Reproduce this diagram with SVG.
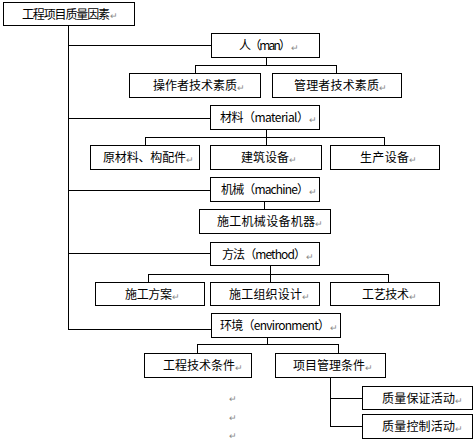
<svg xmlns="http://www.w3.org/2000/svg" width="476" height="443" viewBox="0 0 476 443">
<style>
rect{fill:#fff;stroke:#000;stroke-width:1}
.c line{stroke:#000;stroke-width:1}
text{font-family:"Noto Sans CJK SC","Noto Sans",sans-serif;font-size:12px;fill:#000}
.r{font-size:9px;fill:#888}
</style>
<rect x="0" y="0" width="476" height="443" style="stroke:none"/>
<g class="c" id="connectors">
<line x1="68.5" y1="25" x2="68.5" y2="329.5"/>
<line x1="68" y1="45.5" x2="211" y2="45.5"/>
<line x1="68" y1="118.5" x2="210" y2="118.5"/>
<line x1="68" y1="190.5" x2="210" y2="190.5"/>
<line x1="68" y1="253.5" x2="210" y2="253.5"/>
<line x1="68" y1="329.5" x2="211" y2="329.5"/>
<line x1="266.5" y1="57" x2="266.5" y2="65.5"/>
<line x1="195.5" y1="65.5" x2="336.5" y2="65.5"/>
<line x1="195.5" y1="65" x2="195.5" y2="73"/>
<line x1="336.5" y1="65" x2="336.5" y2="73"/>
<line x1="266.5" y1="129" x2="266.5" y2="145"/>
<line x1="145.5" y1="137.5" x2="384.5" y2="137.5"/>
<line x1="145.5" y1="137" x2="145.5" y2="145"/>
<line x1="384.5" y1="137" x2="384.5" y2="145"/>
<line x1="264.5" y1="201" x2="264.5" y2="209"/>
<line x1="270.5" y1="265" x2="270.5" y2="282"/>
<line x1="148.5" y1="274.5" x2="388.5" y2="274.5"/>
<line x1="148.5" y1="274" x2="148.5" y2="282"/>
<line x1="388.5" y1="274" x2="388.5" y2="282"/>
<line x1="267.5" y1="337" x2="267.5" y2="344.5"/>
<line x1="197.5" y1="344.5" x2="338.5" y2="344.5"/>
<line x1="197.5" y1="344" x2="197.5" y2="353"/>
<line x1="338.5" y1="344" x2="338.5" y2="353"/>
<line x1="330.5" y1="377" x2="330.5" y2="426.5"/>
<line x1="330" y1="398.5" x2="362" y2="398.5"/>
<line x1="330" y1="426.5" x2="362" y2="426.5"/>
</g>
<g id="root"><rect x="3.5" y="2.5" width="131" height="23"/><text x="22" y="18.5" textLength="88">工程项目质量因素</text><text class="r" x="110" y="19">↵</text></g>
<g id="man"><rect x="211.5" y="33.5" width="108" height="24"/><text x="239" y="50" textLength="52">人（man）</text><text class="r" x="291" y="51">↵</text></g>
<g id="op"><rect x="129.5" y="73.5" width="131" height="24"/><text x="153" y="90" textLength="84">操作者技术素质</text><text class="r" x="237" y="91">↵</text></g>
<g id="mg"><rect x="272.5" y="73.5" width="129" height="24"/><text x="294" y="90" textLength="85">管理者技术素质</text><text class="r" x="379" y="91">↵</text></g>
<g id="mat"><rect x="210.5" y="105.5" width="109" height="24"/><text x="220" y="122" textLength="89">材料（material）</text><text class="r" x="309" y="123">↵</text></g>
<g id="raw"><rect x="90.5" y="145.5" width="109" height="24"/><text x="103" y="162" textLength="83">原材料、构配件</text><text class="r" x="186" y="163">↵</text></g>
<g id="bld"><rect x="210.5" y="145.5" width="111" height="24"/><text x="241" y="162" textLength="48">建筑设备</text><text class="r" x="289" y="163">↵</text></g>
<g id="prod"><rect x="330.5" y="145.5" width="109" height="24"/><text x="360" y="162" textLength="49">生产设备</text><text class="r" x="409" y="163">↵</text></g>
<g id="mach"><rect x="210.5" y="177.5" width="109" height="24"/><text x="221" y="194" textLength="88">机械（machine）</text><text class="r" x="309" y="195">↵</text></g>
<g id="eqp"><rect x="199.5" y="209.5" width="131" height="24"/><text x="217" y="226" textLength="98">施工机械设备机器</text><text class="r" x="315" y="227">↵</text></g>
<g id="meth"><rect x="210.5" y="242.5" width="109" height="23"/><text x="222" y="258.5" textLength="84">方法（method）</text><text class="r" x="306" y="259.5">↵</text></g>
<g id="plan"><rect x="95.5" y="282.5" width="109" height="23"/><text x="125" y="298.5" textLength="47">施工方案</text><text class="r" x="172" y="299.5">↵</text></g>
<g id="org"><rect x="210.5" y="282.5" width="109" height="23"/><text x="229" y="298.5" textLength="73">施工组织设计</text><text class="r" x="302" y="299.5">↵</text></g>
<g id="tech"><rect x="330.5" y="282.5" width="109" height="23"/><text x="362" y="298.5" textLength="47">工艺技术</text><text class="r" x="409" y="299.5">↵</text></g>
<g id="env"><rect x="211.5" y="313.5" width="129" height="24"/><text x="220" y="330" textLength="110">环境（environment）</text><text class="r" x="330" y="331">↵</text></g>
<g id="eng"><rect x="144.5" y="353.5" width="107" height="24"/><text x="163" y="370" textLength="72">工程技术条件</text><text class="r" x="235" y="371">↵</text></g>
<g id="pm"><rect x="275.5" y="353.5" width="110" height="24"/><text x="293" y="370" textLength="72">项目管理条件</text><text class="r" x="365" y="371">↵</text></g>
<g id="qa"><rect x="362.5" y="386.5" width="110" height="23"/><text x="382" y="402.5" textLength="73">质量保证活动</text><text class="r" x="455" y="403.5">↵</text></g>
<g id="qc"><rect x="362.5" y="414.5" width="110" height="24"/><text x="382" y="431" textLength="73">质量控制活动</text><text class="r" x="455" y="432">↵</text></g>
<text class="r" x="229" y="402">↵</text>
<text class="r" x="229" y="421">↵</text>
<text class="r" x="229" y="439">↵</text>
</svg>
